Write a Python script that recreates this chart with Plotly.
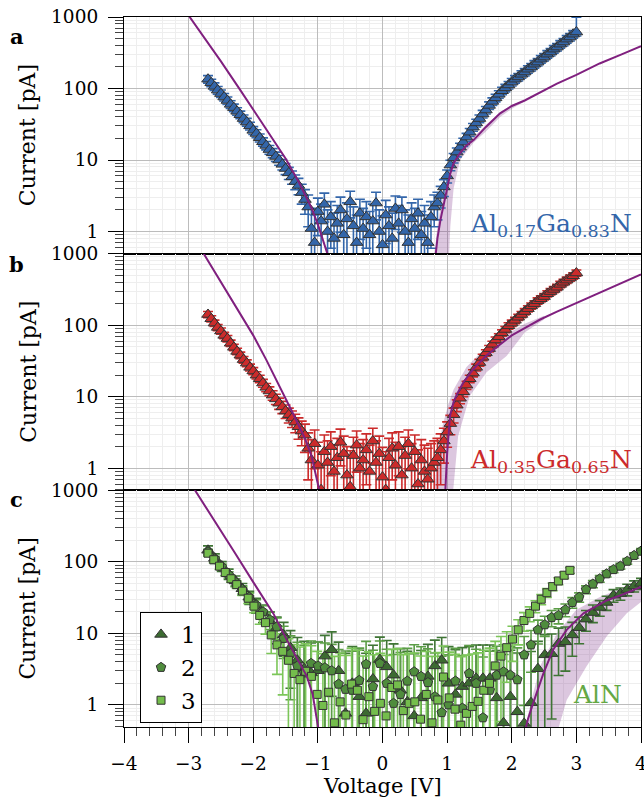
import numpy as np
import plotly.graph_objects as go
from plotly.subplots import make_subplots

FONT = "DejaVu Serif"

# ---------------- data ----------------
volt_ab = np.round(np.linspace(-2.7, 3.0, 115), 3)
volt_c12 = np.round(np.linspace(-2.7, 4.0, 64), 3)
volt_c3 = np.round(np.linspace(-2.7, 2.9, 64), 3)

cur_a = [135, 120, 107, 95, 85, 76, 68, 60, 54, 48, 43, 38, 34, 30, 26, 23.5, 20.5, 18, 16, 14,
         12.6, 11.2, 10, 8.7, 7.6, 6.6, 5.8, 5.0, 4.4, 3.5, 2.8,
         2.2, 1.1, 0.7, 1.9, 1.4, 2.4, 1.0, 1.6, 0.8, 1.3, 2.0, 0.9, 1.5, 2.6, 1.2, 0.7, 1.8, 1.1, 1.6, 0.9,
         1.4, 2.5, 1.0, 0.65, 1.7, 1.2, 0.8, 2.1, 1.3, 2.0, 1.0, 0.7, 1.5, 1.1, 1.8, 0.9, 1.3, 0.7, 1.6, 2.2,
         2.5, 3.2, 4.2, 6.0, 8.5, 10.7, 12.9, 15.1, 17.8, 20.9, 24.5, 28.8, 33, 38, 44, 50, 58, 66, 74, 83,
         93, 102, 112, 123, 135, 145, 158, 170, 186, 200, 219, 234, 257, 275, 302, 324, 355, 380, 417, 447,
         490, 525, 575, 617]

cur_b = [141, 123, 107, 93, 83, 72, 65, 56, 49, 43, 38, 33, 29.5, 25.7, 22.9, 20, 17.8, 15.5, 13.5, 12,
         10.5, 9.3, 8.1, 7.2, 6.3, 5.6, 5.0, 4.4, 3.8, 3.3, 2.9,
         1.9, 1.3, 2.2, 1.1, 0.5, 1.7, 1.2, 2.0, 0.9, 1.4, 2.3, 1.6, 0.8, 0.55, 1.5, 2.1, 1.0, 1.3, 1.8, 0.9,
         2.4, 1.2, 1.6, 0.75, 0.5, 1.4, 1.9, 1.1, 2.0, 0.8, 1.5, 2.2, 1.0, 1.7, 0.6, 1.3, 0.9, 0.7, 1.0, 1.2,
         1.4, 1.8, 2.4, 3.2, 4.2, 5.6, 7.6, 9.5, 11.7, 14.5, 17.8, 21.4, 25.7, 30, 35.5, 41, 47, 54, 62, 69,
         78, 87, 98, 107, 117, 129, 141, 155, 170, 186, 200, 219, 234, 251, 275, 295, 316, 339, 372, 398,
         427, 457, 490, 537]

cur_c1 = [145, 112, 87, 68, 54, 42, 32, 25, 19.5, 15, 12, 9.5, 6.3, 4.2, 3.2, 2.8, 3.0, 4.8, 5.9, 3.0,
          0.76, 2.0, 1.3, 0.76, 2.3, 4.3, 3.4, 2.6, 1.6, 1.1, 0.7, 1.25, 2.5, 3.5, 4.2, 2.0, 1.4, 1.8, 2.0, 2.35,
          2.35, 2.35, 1.25, 0.56, 1.3, 0.8, 0.55, 1.07, 3.2, 5.0, 5.2, 7.2, 7.6, 9.5, 12, 15.8, 19.5, 23, 27, 34,
          36, 41, 46, 50]
cur_c2 = [138, 110, 85, 66, 52, 41, 32, 25, 20, 15.5, 12.3, 8.5, 5.2, 3.5, 2.8, 3.8, 3.5, 3.3, 3.0, 1.95,
          1.65, 1.6, 2.2, 3.7, 1.8, 3.8, 2.0, 1.05, 1.4, 2.15, 2.9, 2.5, 2.05, 1.3, 0.78, 1.0, 2.15, 0.9, 2.75, 2.0,
          0.66, 1.6, 2.6, 2.9, 2.6, 2.25, 5.0, 6.9, 11.2, 13.2, 16.6, 17.8, 21.4, 27, 32, 41, 49, 58, 68, 78,
          87, 102, 123, 141]
cur_c3 = [132, 107, 87, 71, 58, 48, 39, 31, 24, 17.8, 14.1, 9.5, 6.9, 5.6, 4.2, 2.75, 2.25, 2.95, 2.5, 1.4,
          0.98, 1.5, 0.56, 1.1, 0.72, 1.95, 1.6, 0.62, 1.3, 0.81, 1.05, 0.7, 1.75, 1.9, 0.83, 1.05, 1.1, 0.63, 1.4, 0.56,
          1.17, 2.45, 1.25, 0.87, 0.52, 0.76, 0.95, 1.12, 1.6, 2.0, 3.5, 4.8, 6.3, 8.3, 11.2, 15.1, 19, 24, 30, 37,
          45, 54, 65, 76]

# uncertainty model (noise floor in pA, relative part)
err_floor = {"a": 1.0, "b": 1.2, "c1": 4.5, "c2": 4.0, "c3": 4.2}
err_rel = {"a": 0.12, "b": 0.10, "c1": 0.15, "c2": 0.08, "c3": 0.08}
err_a_last_plus = 380

# theory curves
theo_a_left_v = [-3.00, -2.80, -2.50, -2.20, -2.00, -1.80, -1.50, -1.30, -1.10, -1.00, -0.90, -0.84]
theo_a_left_i = [1050, 590, 240, 95, 51, 27.5, 10.5, 5.0, 2.15, 1.26, 0.68, 0.45]
theo_a_right_v = [0.82, 0.85, 0.90, 0.95, 1.00, 1.05, 1.10, 1.20, 1.30, 1.41, 1.60, 1.82, 2.00, 2.20, 2.50, 2.70, 3.00, 3.36, 3.70, 4.00]
theo_a_right_i = [0.45, 0.8, 1.5, 2.6, 4.0, 6.5, 9.0, 12.5, 16, 19, 29, 45, 57, 68, 95, 117, 155, 224, 300, 390]
band_a_v = [0.78, 0.85, 0.90, 0.95, 1.00, 1.05, 1.10, 1.20, 1.30, 1.41, 1.60, 1.82, 2.00, 2.20,
            2.20, 2.00, 1.82, 1.60, 1.41, 1.20, 1.10, 1.05, 1.02]
band_a_i = [0.3, 1.2, 2.2, 3.6, 5.5, 7.9, 10.5, 14.1, 17.4, 20.9, 30.9, 46.8, 58.9, 69.2,
            66, 52, 40, 25, 17.5, 10, 4.0, 1.2, 0.3]

theo_b_left_v = [-2.80, -2.60, -2.40, -2.20, -2.00, -1.80, -1.60, -1.40, -1.20, -1.10, -1.00, -0.97]
theo_b_left_i = [1120, 560, 290, 145, 72, 33, 14.5, 6.2, 2.6, 1.5, 0.6, 0.45]
theo_b_right_v = [0.97, 1.00, 1.045, 1.10, 1.15, 1.25, 1.40, 1.60, 1.80, 2.00, 2.20, 2.44, 2.70, 3.00, 3.50, 4.00]
theo_b_right_i = [0.45, 1.6, 5.4, 8.5, 10.7, 15.8, 24, 37, 52, 72, 91, 120, 155, 204, 331, 513]
band_b_v = [0.78, 0.86, 0.94, 1.02, 1.10, 1.30, 1.56, 1.82, 2.20, 2.50,
            2.50, 2.20, 1.92, 1.61, 1.35, 1.17, 1.10, 1.06]
band_b_i = [0.3, 2.0, 4.3, 7.9, 12.6, 26, 45, 66, 105, 135,
            120, 79, 37, 22, 10.2, 2.8, 0.56, 0.3]

theo_c_left_v = [-2.95, -2.60, -2.30, -2.00, -1.69, -1.48, -1.30, -1.17, -1.08, -1.02, -0.99]
theo_c_left_i = [1175, 380, 141, 52, 19, 8.1, 4.2, 2.5, 1.4, 0.7, 0.45]
theo_c_right_v = [2.21, 2.25, 2.33, 2.49, 2.64, 2.85, 3.11, 3.47, 3.75, 4.00]
theo_c_right_i = [0.45, 0.63, 1.05, 2.75, 5.9, 11.2, 19, 28.8, 36, 44.7]
band_c_v = [2.16, 2.30, 2.44, 2.70, 3.00, 3.37, 4.00, 4.00, 3.78, 3.47, 3.16, 2.85, 2.66]
band_c_i = [0.3, 1.12, 3.5, 10, 21.4, 32.4, 55, 27.5, 19.1, 9.1, 3.5, 1.17, 0.3]

x_tick_vals = [-4, -3, -2, -1, 0, 1, 2, 3, 4]
y_tick_vals = [1, 10, 100, 1000]
y_tick_text = ["1", "10", "100", "1000"]
legend_names = ["1", "2", "3"]
panel_letters = ["a", "b", "c"]

# ---------------- styling ----------------
BLUE = "#3366aa"
RED = "#cc2b2b"
G1, G2, G3 = "#3c6b31", "#4f8c3d", "#74bd4c"
E1, E2, E3 = "#3f7535", "#5b9d46", "#7cc659"
PURPLE = "#80207f"
BAND = "rgba(140, 70, 150, 0.30)"
EDGE = "#333333"


def errs(vals, key):
    v = np.asarray(vals, dtype=float)
    return np.sqrt(err_floor[key] ** 2 + (err_rel[key] * v) ** 2)


fig = make_subplots(rows=3, cols=1, shared_xaxes=True, vertical_spacing=0)


def add_band(vx, vy, row):
    fig.add_trace(go.Scatter(x=vx, y=vy, mode="lines", fill="toself", fillcolor=BAND,
                             line=dict(width=0), hoverinfo="skip", showlegend=False), row=row, col=1)


def add_theory(vx, vy, row):
    fig.add_trace(go.Scatter(x=vx, y=vy, mode="lines", line=dict(color=PURPLE, width=2),
                             showlegend=False), row=row, col=1)


# panel a
add_band(band_a_v, band_a_i, 1)
ea = errs(cur_a, "a")
ea_plus = ea.copy()
ea_plus[-1] = err_a_last_plus
fig.add_trace(go.Scatter(x=volt_ab, y=cur_a, mode="markers",
                         marker=dict(symbol="triangle-up", size=11, color=BLUE, line=dict(color=EDGE, width=1)),
                         error_y=dict(type="data", array=ea_plus, arrayminus=ea, symmetric=False,
                                      color=BLUE, thickness=1.6, width=5),
                         showlegend=False), row=1, col=1)
add_theory(theo_a_left_v, theo_a_left_i, 1)
add_theory(theo_a_right_v, theo_a_right_i, 1)

# panel b
add_band(band_b_v, band_b_i, 2)
eb = errs(cur_b, "b")
fig.add_trace(go.Scatter(x=volt_ab, y=cur_b, mode="markers",
                         marker=dict(symbol="triangle-up", size=11, color=RED, line=dict(color=EDGE, width=1)),
                         error_y=dict(type="data", array=eb, color=RED, thickness=1.6, width=5),
                         showlegend=False), row=2, col=1)
add_theory(theo_b_left_v, theo_b_left_i, 2)
add_theory(theo_b_right_v, theo_b_right_i, 2)

# panel c
add_band(band_c_v, band_c_i, 3)
series_c = [
    (volt_c12, cur_c1, "c1", E1, G1, "triangle-up", 11),
    (volt_c12, cur_c2, "c2", E2, G2, "pentagon", 10),
    (volt_c3, cur_c3, "c3", E3, G3, "square", 8),
]
for vx, vy, key, ec, mc, sym, sz in series_c:
    fig.add_trace(go.Scatter(x=vx, y=vy, mode="markers",
                             marker=dict(size=2, color="rgba(0,0,0,0)"),
                             error_y=dict(type="data", array=errs(vy, key), color=ec, thickness=1.6, width=5),
                             showlegend=False, hoverinfo="skip"), row=3, col=1)
for (vx, vy, key, ec, mc, sym, sz), name in zip(series_c, legend_names):
    fig.add_trace(go.Scatter(x=vx, y=vy, mode="markers", name=name,
                             marker=dict(symbol=sym, size=sz, color=mc, line=dict(color=EDGE, width=1)),
                             showlegend=True), row=3, col=1)
add_theory(theo_c_left_v, theo_c_left_i, 3)
add_theory(theo_c_right_v, theo_c_right_i, 3)

# ---------------- axes ----------------
for r in (1, 2, 3):
    fig.update_yaxes(type="log", range=[-0.31, 3.0], tickmode="array", tickvals=y_tick_vals, ticktext=y_tick_text,
                     ticks="outside", ticklen=15, tickwidth=1, tickcolor="black",
                     showline=True, linecolor="black", linewidth=1.2, mirror=True,
                     showgrid=True, gridcolor="#bcbcbc", gridwidth=1, zeroline=False,
                     minor=dict(ticks="outside", ticklen=8, tickwidth=1, tickcolor="#444444", dtick="D1",
                                showgrid=True, gridcolor="#eeeeee", gridwidth=1),
                     tickfont=dict(family=FONT, size=18.5, color="black"), ticklabelstandoff=6,
                     ticklabeloverflow="allow", automargin=False,
                     row=r, col=1)
    last = r == 3
    fig.update_xaxes(range=[-4, 4], tickmode="array", tickvals=x_tick_vals,
                     ticks="outside" if last else "", ticklen=15, tickwidth=1, tickcolor="black",
                     showticklabels=last,
                     showline=True, linecolor="black", linewidth=1.2, mirror=True,
                     showgrid=True, gridcolor="#bcbcbc", gridwidth=1, zeroline=False,
                     minor=dict(ticks="outside" if last else "", ticklen=8, tickwidth=1, tickcolor="#444444",
                                dtick=0.2, showgrid=True, gridcolor="#eeeeee", gridwidth=1),
                     tickfont=dict(family=FONT, size=18.5, color="black"), ticklabelstandoff=5,
                     ticklabeloverflow="allow", automargin=False,
                     row=r, col=1)

# ---------------- annotations ----------------
ann = []
panel_centers = [0.8333, 0.5, 0.1667]
letter_y = [0.973, 0.651, 0.320]
for letter, yc, yl in zip(panel_letters, panel_centers, letter_y):
    ann.append(dict(text="Current [pA]", x=-0.186, y=yc, xref="paper", yref="paper", textangle=-90,
                    showarrow=False, xanchor="center", yanchor="middle",
                    font=dict(family=FONT, size=22, color="black")))
    ann.append(dict(text="<b>" + letter + "</b>", x=-0.207, y=yl, xref="paper", yref="paper",
                    showarrow=False, xanchor="center", yanchor="middle",
                    font=dict(family=FONT, size=21, color="black")))
ann.append(dict(text="Voltage [V]", x=0.5, y=-0.083, xref="paper", yref="paper", showarrow=False,
                xanchor="center", yanchor="middle", font=dict(family=FONT, size=21, color="black")))
ann.append(dict(text="Al<sub>0.17</sub>Ga<sub>0.83</sub>N", x=0.9865, y=0.707, xref="paper", yref="paper",
                showarrow=False, xanchor="right", yanchor="middle", font=dict(family=FONT, size=25, color=BLUE)))
ann.append(dict(text="Al<sub>0.35</sub>Ga<sub>0.65</sub>N", x=0.9865, y=0.374, xref="paper", yref="paper",
                showarrow=False, xanchor="right", yanchor="middle", font=dict(family=FONT, size=25, color=RED)))
ann.append(dict(text="AlN", x=0.967, y=0.046, xref="paper", yref="paper",
                showarrow=False, xanchor="right", yanchor="middle", font=dict(family=FONT, size=25, color="#64a844")))

fig.update_layout(
    width=644, height=797,
    margin=dict(l=124, r=3, t=17, b=70, autoexpand=False),
    paper_bgcolor="white", plot_bgcolor="white",
    font=dict(family=FONT, color="black"),
    annotations=ann,
    legend=dict(x=0.031, y=0.162, xanchor="left", yanchor="top", bgcolor="white",
                bordercolor="black", borderwidth=1, font=dict(family=FONT, size=23, color="black"),
                tracegroupgap=0, itemwidth=30),
    showlegend=True,
)

fig.write_html("out.html", config={"displayModeBar": False},
               post_script="document.body.style.margin='0px';document.body.style.overflow='hidden';")
